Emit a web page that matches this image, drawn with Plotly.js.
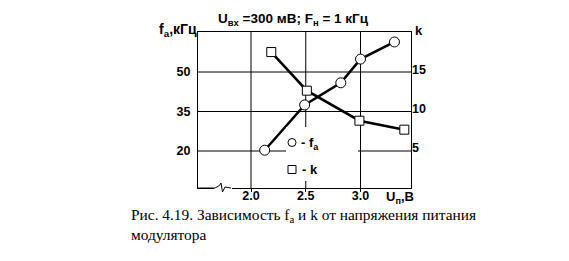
<!DOCTYPE html>
<html>
<head>
<meta charset="utf-8">
<script src="https://cdn.plot.ly/plotly-3.0.1.min.js"></script>
<style>html,body{margin:0;padding:0;background:#fff;}#chart{width:569px;height:261px;}</style>
</head>
<body>
<div id="chart"></div>
<script>
// ---- data ----
const faX = [2.125, 2.49, 2.82, 3.0, 3.31];
const faY = [20.3, 37.5, 45.9, 54.9, 61.4];
const kX = [2.185, 2.51, 2.99, 3.40];
const kY = [17.3, 12.35, 8.5, 7.35];
const xTicks = [2.0, 2.5, 3.0];
const xTickText = ['2.0', '2.5', '3.0'];
const faTicks = [20, 35, 50];
const kTicks = [5, 10, 15];

// ---- layout helpers (pixel -> paper) ----
const L = 198, T = 32, W = 213, H = 156;
const px = x => (x - L) / W;
const py = y => (T + H - y) / H;

const fam = 'Liberation Sans, Arial, sans-serif';
const bold = {family: fam, size: 12.5, color: '#000', weight: 'bold'};
const bold13 = {family: fam, size: 13, color: '#000', weight: 'bold'};
const boldT = {family: fam, size: 13.5, color: '#000', weight: 'bold'};
const bold14 = {family: fam, size: 14, color: '#000', weight: 'bold'};
const serif = {family: 'Liberation Serif, Times New Roman, serif', size: 15.4, color: '#000'};

const traces = [
  {x: faX, y: faY, mode: 'lines+markers', showlegend: false,
   line: {color: '#000', width: 2.5},
   marker: {symbol: 'circle', size: 10, color: '#fff', line: {color: '#000', width: 1}}},
  {x: kX, y: kY, yaxis: 'y2', mode: 'lines+markers', showlegend: false,
   line: {color: '#000', width: 2.5},
   marker: {symbol: 'square', size: 9, color: '#fff', line: {color: '#000', width: 1}}},
  {x: [null], y: [null], mode: 'markers', name: ' ', legendgroup: 'a',
   marker: {symbol: 'circle', size: 8, color: '#fff', line: {color: '#000', width: 1}}},
  {x: [null], y: [null], mode: 'markers', name: ' ', legendgroup: 'b',
   marker: {symbol: 'square', size: 8, color: '#fff', line: {color: '#000', width: 1}}}
];

// grid lines drawn from the tick arrays
const gridShapes = [];
xTicks.forEach(v => gridShapes.push({type: 'line', xref: 'x', yref: 'paper', x0: v, x1: v, y0: 0, y1: 1,
  line: {color: '#000', width: 1}, layer: 'below'}));
faTicks.forEach(v => gridShapes.push({type: 'line', xref: 'paper', yref: 'y', x0: 0, x1: 1, y0: v, y1: v,
  line: {color: '#000', width: 1}, layer: 'below'}));

const zig = [[198,188],[215,188],[219.5,185.5],[221,183],[222.5,192],[225,187],[231,188]];
const zigPath = zig.map((p,i)=>(i?'L':'M')+px(p[0]).toFixed(4)+','+py(p[1]).toFixed(4)).join(' ');

const layout = {
  width: 569, height: 261,
  margin: {l: L, r: 569 - L - W, t: T, b: 261 - T - H, pad: 0},
  paper_bgcolor: '#fff', plot_bgcolor: 'rgba(0,0,0,0)',
  showlegend: true,
  legend: {x: px(272), y: py(128), xanchor: 'left', yanchor: 'top', bgcolor: 'rgba(0,0,0,0)',
           borderwidth: 0, traceorder: 'grouped', tracegroupgap: 8, font: {family: fam, size: 12}, itemwidth: 30},
  xaxis: {range: [1.516, 3.461], tickmode: 'array', tickvals: xTicks, ticktext: xTickText,
          showgrid: false, zeroline: false,
          showline: true, linecolor: '#000', linewidth: 1, mirror: true,
          ticks: 'outside', ticklen: 3, tickcolor: '#000', tickfont: bold, ticklabelstandoff: -7},
  yaxis: {range: [5.95, 65.19], tickmode: 'array', tickvals: faTicks, showgrid: false,
          zeroline: false, showline: true, linecolor: '#000', linewidth: 1, mirror: true,
          ticks: '', tickfont: bold, ticklabelstandoff: 4},
  yaxis2: {range: [-0.13, 19.87], tickmode: 'array', tickvals: kTicks, overlaying: 'y', side: 'right',
           showgrid: false, zeroline: false, showline: false, ticks: '', tickfont: bold,
           ticklabelstandoff: 0},
  shapes: gridShapes.concat([
    // mask behind the legend
    {type: 'rect', xref: 'paper', yref: 'paper', x0: px(286), x1: px(358), y0: py(181), y1: py(127),
     fillcolor: '#fff', line: {width: 0}, layer: 'above'},
    // axis break
    {type: 'rect', xref: 'paper', yref: 'paper', x0: px(214), x1: px(232), y0: py(193), y1: py(184),
     fillcolor: '#fff', line: {width: 0}, layer: 'above'},
    {type: 'path', xref: 'paper', yref: 'paper', path: zigPath, line: {color: '#000', width: 1}, layer: 'above'}
  ]),
  annotations: [
    {xref: 'paper', yref: 'paper', x: px(216), y: py(9), xanchor: 'left', yanchor: 'top', showarrow: false,
     text: 'U<sub>вх</sub> =300 мВ; F<sub>н</sub> = 1 кГц', font: boldT},
    {xref: 'paper', yref: 'paper', x: px(199), y: py(19), xanchor: 'right', yanchor: 'top', showarrow: false,
     text: 'f<sub>a</sub>,кГц', font: bold14},
    {xref: 'paper', yref: 'paper', x: px(413), y: py(21), xanchor: 'left', yanchor: 'top', showarrow: false,
     text: 'k', font: bold13},
    {xref: 'paper', yref: 'paper', x: px(384), y: py(187), xanchor: 'left', yanchor: 'top', showarrow: false,
     text: 'U<sub>п</sub>,В', font: bold13},
    {xref: 'paper', yref: 'paper', x: px(299), y: py(133), xanchor: 'left', yanchor: 'top', showarrow: false,
     text: '- f<sub>a</sub>', font: bold13},
    {xref: 'paper', yref: 'paper', x: px(300), y: py(160), xanchor: 'left', yanchor: 'top', showarrow: false,
     text: '- k', font: bold13},
    {xref: 'paper', yref: 'paper', x: px(129), y: py(204), xanchor: 'left', yanchor: 'top', showarrow: false,
     align: 'left', text: 'Рис. 4.19. Зависимость f<sub>a</sub> и k от напряжения питания<br>модулятора', font: serif}
  ]
};

Plotly.newPlot('chart', traces, layout, {displayModeBar: false, staticPlot: true});
</script>
</body>
</html>
